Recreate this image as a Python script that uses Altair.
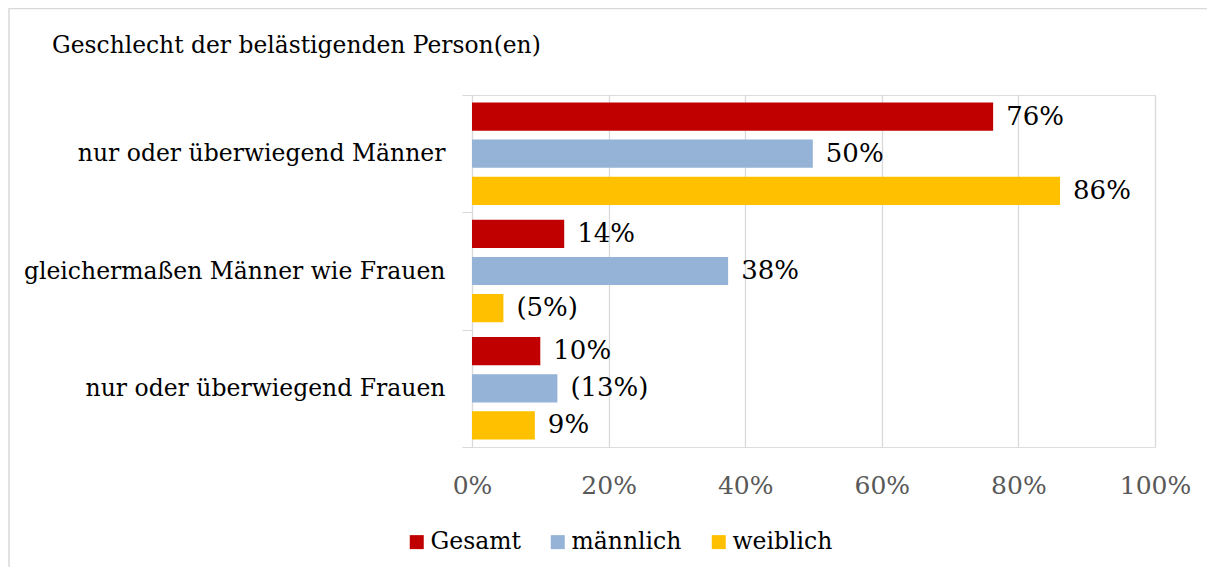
import altair as alt
import pandas as pd

categories = ["nur oder überwiegend Männer", "gleichermaßen Männer wie Frauen", "nur oder überwiegend Frauen"]
series = ["Gesamt", "männlich", "weiblich"]
colors = ["#C00000", "#95B3D7", "#FFC000"]
values = {
    "Gesamt": [76.3, 13.5, 10.0],
    "männlich": [49.9, 37.5, 12.5],
    "weiblich": [86.1, 4.6, 9.2],
}
labels = {
    "Gesamt": ["76%", "14%", "10%"],
    "männlich": ["50%", "38%", "(13%)"],
    "weiblich": ["86%", "(5%)", "9%"],
}
x_ticks = [0, 20, 40, 60, 80, 100]

rows = []
for s in series:
    for i, c in enumerate(categories):
        rows.append({"cat": c, "series": s, "value": values[s][i] / 100, "label": labels[s][i]})
df = pd.DataFrame(rows)

FONT = "DejaVu Serif"
W, H = 683, 352
PL, PT, PR, PB = 464, 87, 52, 120

y_enc = alt.Y("cat:N", sort=categories, title=None,
              scale=alt.Scale(paddingInner=0, paddingOuter=0),
              axis=alt.Axis(tickBand="extent", domainColor="#D9D9D9", tickColor="#D9D9D9",
                            tickSize=10, labelPadding=17, labelFont=FONT, labelFontSize=23.5,
                            labelColor="#000000", labelLimit=600, grid=False))
yo_enc = alt.YOffset("series:N", sort=series,
                     scale=alt.Scale(paddingInner=0.24, paddingOuter=0.2))
x_enc = alt.X("value:Q", title=None,
              scale=alt.Scale(domain=[0, 1], nice=False),
              axis=alt.Axis(values=[v / 100 for v in x_ticks], format=".0%", domain=False, ticks=False,
                            grid=True, gridColor="#D9D9D9", gridWidth=1.3, labelFlush=False,
                            labelFont=FONT, labelFontSize=25, labelColor="#595959",
                            labelPadding=26))

base = alt.Chart(df)
bars = base.mark_bar().encode(
    x=x_enc, y=y_enc, yOffset=yo_enc,
    color=alt.Color("series:N", sort=series,
                    scale=alt.Scale(domain=series, range=colors),
                    legend=alt.Legend(orient="none", legendX=-67, legendY=435, direction="horizontal",
                                      title=None, symbolType="square", symbolSize=196,
                                      symbolStrokeWidth=0, labelFont=FONT, labelFontSize=23.5,
                                      labelColor="#000000", columnPadding=25, labelOffset=2)),
)
texts = base.mark_text(align="left", baseline="middle", dx=13, font=FONT, fontSize=26, color="#000000").encode(
    x="value:Q", y=alt.Y("cat:N", sort=categories), yOffset=alt.YOffset("series:N", sort=series), text="label:N"
)
frame = alt.Chart(pd.DataFrame({"a": [0]})).mark_rect(fill=None, stroke="#D9D9D9", strokeWidth=1.5).encode(
    x=alt.value(-463), x2=alt.value(W + PR + 40), y=alt.value(-86.5), y2=alt.value(H + PB + 40)
)

chart = alt.layer(frame, bars, texts).properties(
    width=W, height=H,
    title=alt.TitleParams("Geschlecht der belästigenden Person(en)", anchor="start", dx=-420, offset=-69,
                          baseline="alphabetic",
                          font=FONT, fontSize=23.4, fontWeight="normal", color="#000000", frame="group"),
    autosize=alt.AutoSizeParams(type="none"),
    padding={"left": PL, "top": PT, "right": PR, "bottom": PB},
).configure_view(stroke="transparent", strokeWidth=0).configure(background="white")

chart.save("out.html", embed_options={"renderer": "svg", "actions": False})
